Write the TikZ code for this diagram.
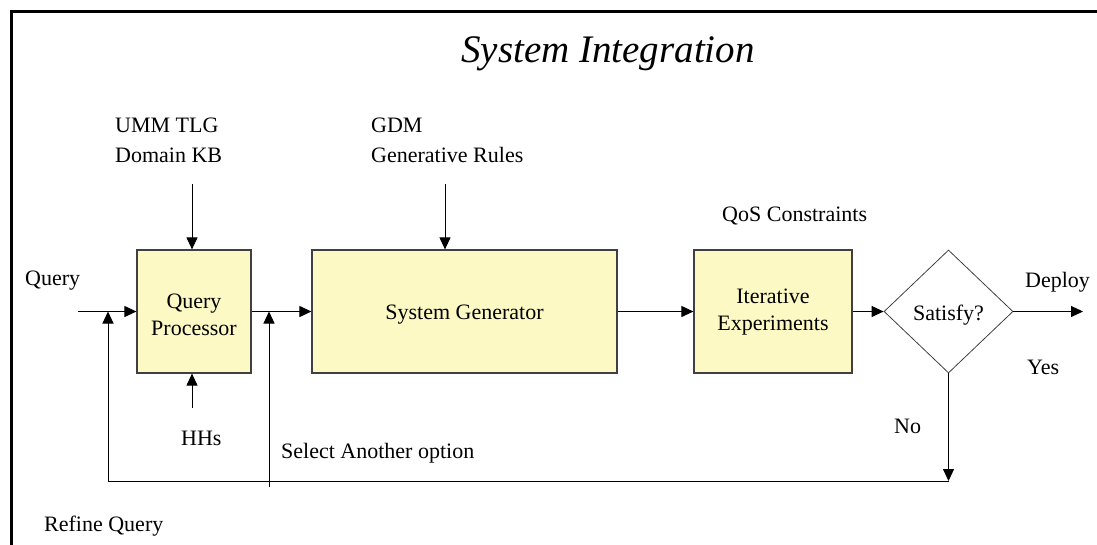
\documentclass[tikz,border=0pt]{standalone}
\usepackage{fontspec}
\setmainfont{Liberation Serif}
\usetikzlibrary{arrows.meta,shapes.geometric}
\definecolor{boxfill}{RGB}{252,249,196}
\tikzset{
  blk/.style={draw=black!75, line width=1.2pt, fill=boxfill, inner sep=0pt},
  intext/.style={inner sep=0pt, align=center, font=\fontsize{22}{27}\selectfont},
  lbl/.style={inner sep=0pt, font=\fontsize{22}{30}\selectfont, align=left},
  arr/.style={line width=1pt, -{Triangle[length=12pt,width=11pt]}},
  ln/.style={line width=1pt},
}
\begin{document}
\begin{tikzpicture}[x=1pt,y=-1pt]
\useasboundingbox (0,0) rectangle (1097,544);
\begin{scope}
\clip (0,0) rectangle (1097,544);
\draw[line width=3pt] (11.3,600) -- (11.3,11.3) -- (1150,11.3);
\end{scope}
% title
\node[inner sep=0pt, font=\fontsize{39}{45}\selectfont\itshape] (title) at (608,54) {System Integration};
% boxes
\node[blk, minimum width=114pt, minimum height=123pt] (qp) at (194,311.5) {};
\node[blk, minimum width=305pt, minimum height=123pt] (sg) at (464.5,311.5) {};
\node[blk, minimum width=158pt, minimum height=123pt] (ie) at (773,311.5) {};
\node[diamond, draw=black!75, line width=0.8pt, minimum width=129pt, minimum height=123pt, inner sep=0pt] (sat) at (948.5,311.5) {};
% box texts
\node[intext, yshift=-3pt] (qpt) at (qp.center) {Query\\Processor};
\node[intext, yshift=-3pt] (sgt) at (sg.center) {System Generator};
\node[intext, yshift=-1pt] (iet) at (ie.center) {Iterative\\Experiments};
\node[intext, yshift=-4pt] (satt) at (sat.center) {Satisfy?};
% labels
\node[lbl, anchor=west] (query) at (25,281) {Query};
\node[lbl, anchor=west] (umm) at (115,140) {UMM TLG\\Domain KB};
\node[lbl, anchor=west] (gdm) at (371,140) {GDM\\Generative Rules};
\node[lbl, anchor=west] (qos) at (722,216) {QoS Constraints};
\node[lbl, anchor=west] (deploy) at (1025,282) {Deploy};
\node[lbl, anchor=west] (yes) at (1027,367) {Yes};
\node[lbl, anchor=west] (no) at (894,426) {No};
\node[lbl, anchor=west] (hhs) at (181,438) {HHs};
\node[lbl, anchor=west] (sel) at (281,453) {Select Another option};
\node[lbl, anchor=west] (refine) at (44,526) {Refine Query};
% coordinates
\coordinate (qin) at (78,311.5);
\coordinate (dout) at (1083,311.5);
\coordinate (ummtop) at (192,184);
\coordinate (gdmtop) at (445,184);
\coordinate (hhsbot) at (192,408);
\coordinate (fbL) at (108,481);
\coordinate (fbR) at (948.5,481);
\coordinate (selbot) at (269,487);
\coordinate (mainL) at (108,311.5);
\coordinate (mainS) at (269,311.5);
% arrows
\draw[arr] (qin) -- (qp.west);
\draw[arr] (qp.east) -- (sg.west);
\draw[arr] (sg.east) -- (ie.west);
\draw[arr] (ie.east) -- (sat.west);
\draw[arr] (sat.east) -- (dout);
\draw[arr] (ummtop) -- (ummtop |- qp.north);
\draw[arr] (gdmtop) -- (gdmtop |- sg.north);
\draw[arr] (hhsbot) -- (hhsbot |- qp.south);
\draw[arr] (sat.south) -- (fbR);
\draw[ln] (fbR) -- (fbL);
\draw[arr] (fbL) -- (mainL);
\draw[arr] (selbot) -- (mainS);
\end{tikzpicture}
\end{document}
